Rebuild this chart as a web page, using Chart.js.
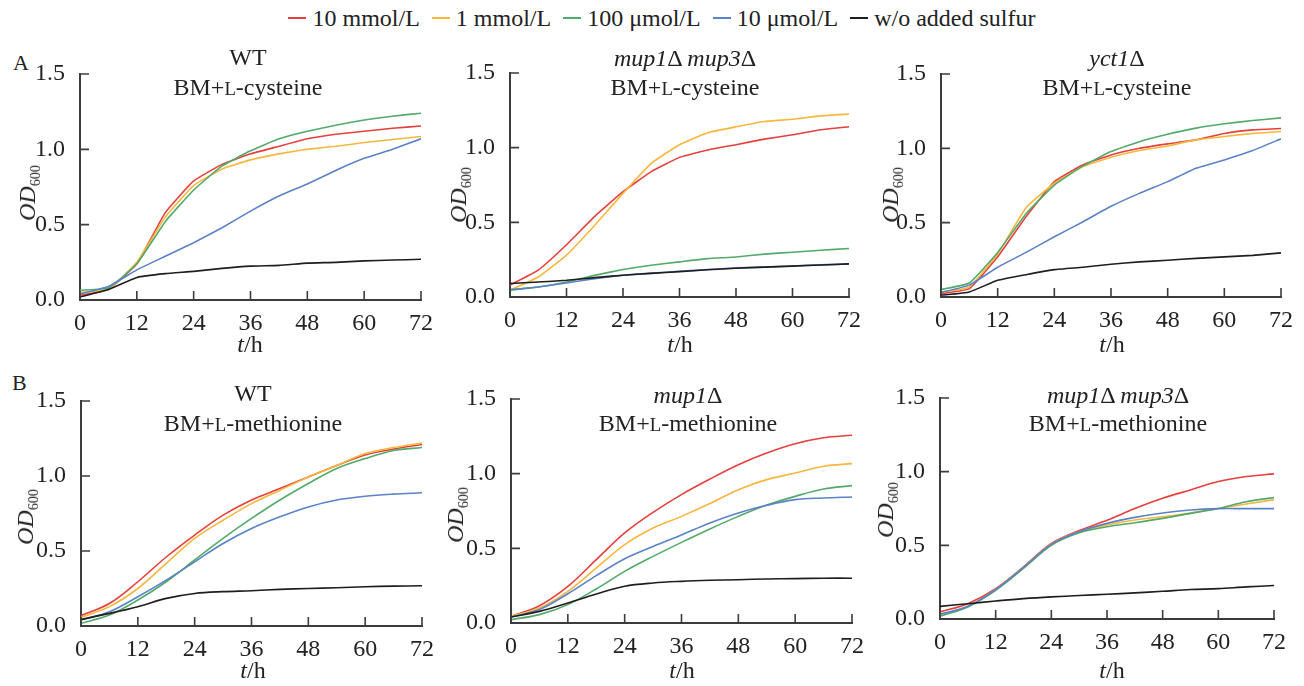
<!DOCTYPE html>
<html>
<head>
<meta charset="utf-8">
<title>OD600 growth curves</title>
<script src="https://cdn.jsdelivr.net/npm/chart.js@4.4.1/dist/chart.umd.min.js"></script>
<style>
    body { margin: 0; background: #fff; }
    #fig { position: relative; width: 1304px; height: 686px; overflow: hidden; background: #fff;
        font-family: "Liberation Serif", "Times New Roman", serif; color: #222; }
    #fig canvas { position: absolute; }
    .lbl { position: absolute; white-space: nowrap; font-size: 24px; line-height: 1; transform: translate(-50%, -50%); }
    .ylab { transform: translate(-50%, -50%) rotate(-90deg); }
    .ylab sub { font-size: 14px; vertical-align: -5px; line-height: 0; }
    .sc { font-size: 0.78em; }
    .panel-tag { position: absolute; font-size: 22px; line-height: 1; }
    #legend { position: absolute; top: 6px; left: 10px; width: 1304px; display: flex; justify-content: center; font-size: 24px; line-height: 1; }
    #legend .item { display: flex; align-items: center; margin: 0 6px; }
    #legend .swatch { width: 18px; height: 2px; margin-right: 6px; }
</style>
</head>
<body>
<div id="fig"></div>
<script>
// sampling times (h) and axis ticks
var times = [0, 6, 12, 18, 24, 30, 36, 42, 48, 54, 60, 66, 72];
var xTicks = [0, 12, 24, 36, 48, 60, 72];
var yTicks = [0, 0.5, 1.0, 1.5];

var seriesNames = ['10 mmol/L', '1 mmol/L', '100 \u03bcmol/L', '10 \u03bcmol/L', 'w/o added sulfur'];
var seriesColors = ['#e5403d', '#f5b73e', '#53a96a', '#5b82c6', '#1e1e1e'];

// OD600 per series, order = seriesNames
var cysWT = [
    [0.03, 0.07, 0.24, 0.58, 0.79, 0.90, 0.97, 1.02, 1.07, 1.10, 1.12, 1.14, 1.155],
    [0.05, 0.07, 0.25, 0.55, 0.76, 0.87, 0.93, 0.97, 1.00, 1.02, 1.045, 1.065, 1.085],
    [0.065, 0.08, 0.24, 0.52, 0.73, 0.89, 0.99, 1.07, 1.12, 1.16, 1.195, 1.22, 1.24],
    [0.04, 0.09, 0.20, 0.29, 0.38, 0.48, 0.59, 0.69, 0.77, 0.86, 0.94, 1.00, 1.07],
    [0.02, 0.07, 0.15, 0.175, 0.19, 0.21, 0.225, 0.23, 0.245, 0.25, 0.26, 0.265, 0.27]
];
var cysMup13 = [
    [0.08, 0.18, 0.35, 0.54, 0.705, 0.84, 0.935, 0.985, 1.02, 1.057, 1.086, 1.12, 1.14],
    [0.045, 0.134, 0.28, 0.48, 0.694, 0.895, 1.02, 1.10, 1.14, 1.175, 1.19, 1.213, 1.225],
    [0.05, 0.067, 0.10, 0.145, 0.184, 0.213, 0.235, 0.257, 0.268, 0.287, 0.30, 0.313, 0.325],
    [0.045, 0.067, 0.094, 0.123, 0.146, 0.16, 0.172, 0.184, 0.195, 0.20, 0.208, 0.215, 0.222],
    [0.09, 0.10, 0.112, 0.13, 0.146, 0.158, 0.17, 0.182, 0.193, 0.20, 0.207, 0.214, 0.222]
];
var cysYct1 = [
    [0.022, 0.056, 0.27, 0.54, 0.776, 0.888, 0.955, 1.0, 1.03, 1.057, 1.10, 1.124, 1.133],
    [0.034, 0.067, 0.29, 0.60, 0.765, 0.877, 0.94, 0.985, 1.016, 1.057, 1.08, 1.10, 1.113],
    [0.05, 0.094, 0.30, 0.56, 0.753, 0.88, 0.978, 1.045, 1.095, 1.136, 1.165, 1.187, 1.205],
    [0.03, 0.08, 0.20, 0.30, 0.405, 0.505, 0.61, 0.697, 0.776, 0.866, 0.922, 0.985, 1.064],
    [0.011, 0.034, 0.112, 0.15, 0.184, 0.20, 0.22, 0.236, 0.247, 0.26, 0.27, 0.28, 0.297]
];
var metWT = [
    [0.069, 0.15, 0.295, 0.46, 0.606, 0.739, 0.84, 0.916, 0.994, 1.07, 1.14, 1.18, 1.21],
    [0.058, 0.129, 0.25, 0.417, 0.584, 0.705, 0.816, 0.905, 0.994, 1.07, 1.15, 1.19, 1.22],
    [0.018, 0.073, 0.173, 0.295, 0.44, 0.584, 0.717, 0.84, 0.95, 1.05, 1.116, 1.17, 1.19],
    [0.04, 0.095, 0.195, 0.306, 0.428, 0.55, 0.65, 0.728, 0.794, 0.84, 0.865, 0.879, 0.888],
    [0.044, 0.084, 0.129, 0.184, 0.217, 0.229, 0.235, 0.244, 0.25, 0.255, 0.262, 0.266, 0.268]
];
var metMup1 = [
    [0.045, 0.116, 0.245, 0.424, 0.603, 0.741, 0.86, 0.964, 1.06, 1.138, 1.20, 1.24, 1.257],
    [0.045, 0.10, 0.212, 0.368, 0.525, 0.636, 0.714, 0.80, 0.893, 0.96, 1.004, 1.05, 1.067],
    [0.022, 0.056, 0.123, 0.228, 0.346, 0.446, 0.54, 0.63, 0.714, 0.79, 0.848, 0.897, 0.92],
    [0.04, 0.09, 0.196, 0.317, 0.43, 0.513, 0.59, 0.67, 0.737, 0.788, 0.826, 0.837, 0.844],
    [0.04, 0.078, 0.134, 0.194, 0.246, 0.268, 0.279, 0.286, 0.29, 0.295, 0.297, 0.30, 0.30]
];
var metMup13 = [
    [0.048, 0.104, 0.206, 0.354, 0.513, 0.60, 0.67, 0.75, 0.82, 0.876, 0.933, 0.967, 0.985],
    [0.025, 0.086, 0.20, 0.35, 0.508, 0.592, 0.638, 0.672, 0.694, 0.72, 0.75, 0.78, 0.81],
    [0.018, 0.082, 0.195, 0.343, 0.50, 0.585, 0.626, 0.653, 0.683, 0.717, 0.75, 0.796, 0.824],
    [0.032, 0.086, 0.20, 0.35, 0.506, 0.592, 0.649, 0.69, 0.72, 0.74, 0.749, 0.749, 0.749],
    [0.086, 0.104, 0.122, 0.138, 0.15, 0.159, 0.168, 0.177, 0.188, 0.20, 0.206, 0.218, 0.227]
];

(function () {
    var fig = document.getElementById('fig');
    var axisColor = '#3c3c3c';
    var fontFamily = '"Liberation Serif", "Times New Roman", serif';
    var Y_W = 70, X_H = 40, PAD_T = 20, PAD_R = 24;

    // plot area boxes: left, top, right, bottom (page px)
    var panels = [
        { data: cysWT, box: [80, 74, 421, 300], tension: 0.12,
          title: ['WT', 'BM+<span class="sc">L</span>-cysteine'], tpos: [248, 57, 87],
          ylab: [27, 193], xlab: [250, 344] },
        { data: cysMup13, box: [510, 73, 849, 297], tension: 0.12,
          title: ['<i>mup1</i>\u0394 <i>mup3</i>\u0394', 'BM+<span class="sc">L</span>-cysteine'], tpos: [685, 58, 87],
          ylab: [458, 195], xlab: [680, 344] },
        { data: cysYct1, box: [941, 74, 1281, 297], tension: 0.12,
          title: ['<i>yct1</i>\u0394', 'BM+<span class="sc">L</span>-cysteine'], tpos: [1117, 58, 87],
          ylab: [890, 195], xlab: [1112, 344] },
        { data: metWT, box: [81, 401, 422, 626], tension: 0.35,
          title: ['WT', 'BM+<span class="sc">L</span>-methionine'], tpos: [253, 393, 423],
          ylab: [25, 517], xlab: [253, 670] },
        { data: metMup1, box: [511, 399, 852, 623], tension: 0.35,
          title: ['<i>mup1</i>\u0394', 'BM+<span class="sc">L</span>-methionine'], tpos: [688, 395, 423],
          ylab: [455, 515], xlab: [682, 670] },
        { data: metMup13, box: [940, 398, 1274, 619], tension: 0.35,
          title: ['<i>mup1</i>\u0394 <i>mup3</i>\u0394', 'BM+<span class="sc">L</span>-methionine'], tpos: [1118, 395, 423],
          ylab: [885, 510], xlab: [1112, 670] }
    ];

    function addLabel(html, x, y, cls) {
        var el = document.createElement('div');
        el.className = 'lbl' + (cls ? ' ' + cls : '');
        el.innerHTML = html;
        el.style.left = x + 'px';
        el.style.top = y + 'px';
        fig.appendChild(el);
        return el;
    }

    var inwardTicks = {
        id: 'inwardTicks',
        afterDraw: function (chart) {
            var ctx = chart.ctx, a = chart.chartArea, xs = chart.scales.x, ys = chart.scales.y;
            ctx.save();
            ctx.strokeStyle = axisColor;
            ctx.lineWidth = 1.6;
            ctx.beginPath();
            xs.ticks.forEach(function (t) {
                var px = xs.getPixelForValue(t.value);
                ctx.moveTo(px, a.bottom);
                ctx.lineTo(px, a.bottom - 9);
            });
            ys.ticks.forEach(function (t) {
                var py = ys.getPixelForValue(t.value);
                ctx.moveTo(a.left, py);
                ctx.lineTo(a.left + 9, py);
            });
            ctx.stroke();
            ctx.restore();
        }
    };

    function fixSize(dim, size) {
        return function (scale) {
            scale[dim] = size;
            scale.paddingLeft = 0; scale.paddingRight = 0;
            scale.paddingTop = 0; scale.paddingBottom = 0;
        };
    }

    function makeChart(p) {
        var b = p.box;
        var cv = document.createElement('canvas');
        var w = (b[2] - b[0]) + Y_W + PAD_R;
        var h = (b[3] - b[1]) + PAD_T + X_H;
        cv.width = w; cv.height = h;
        cv.style.left = (b[0] - Y_W) + 'px';
        cv.style.top = (b[1] - PAD_T) + 'px';
        cv.style.width = w + 'px'; cv.style.height = h + 'px';
        fig.appendChild(cv);

        var datasets = p.data.map(function (vals, i) {
            return {
                label: seriesNames[i],
                data: vals.map(function (v, j) { return { x: times[j], y: v }; }),
                borderColor: seriesColors[i],
                borderWidth: 1.6,
                pointRadius: 0,
                fill: false,
                tension: p.tension
            };
        }).reverse();

        var tickFont = { family: fontFamily, size: 24 };
        new Chart(cv, {
            type: 'line',
            data: { datasets: datasets },
            options: {
                responsive: false,
                animation: false,
                devicePixelRatio: 1,
                layout: { padding: { left: 0, top: PAD_T, right: PAD_R, bottom: 0 } },
                plugins: { legend: { display: false }, tooltip: { enabled: false } },
                scales: {
                    x: {
                        type: 'linear', min: 0, max: 72,
                        afterBuildTicks: function (s) { s.ticks = xTicks.map(function (v) { return { value: v }; }); },
                        afterFit: fixSize('height', X_H),
                        grid: { display: false },
                        border: { display: true, color: axisColor, width: 2 },
                        ticks: { font: tickFont, color: '#222', padding: 1, maxRotation: 0, autoSkip: false }
                    },
                    y: {
                        min: 0, max: 1.5,
                        afterBuildTicks: function (s) { s.ticks = yTicks.map(function (v) { return { value: v }; }); },
                        afterFit: fixSize('width', Y_W),
                        grid: { display: false },
                        border: { display: true, color: axisColor, width: 2 },
                        ticks: {
                            font: tickFont, color: '#222', padding: 7,
                            callback: function (v) { return Number(v).toFixed(1); }
                        }
                    }
                }
            },
            plugins: [inwardTicks]
        });

        addLabel(p.title[0], p.tpos[0], p.tpos[1]);
        addLabel(p.title[1], p.tpos[0], p.tpos[2]);
        addLabel('<i>OD</i><sub>600</sub>', p.ylab[0], p.ylab[1], 'ylab');
        addLabel('<i>t</i>/h', p.xlab[0], p.xlab[1]);
    }

    function buildLegend() {
        var lg = document.createElement('div');
        lg.id = 'legend';
        seriesNames.forEach(function (name, i) {
            var it = document.createElement('div');
            it.className = 'item';
            var sw = document.createElement('span');
            sw.className = 'swatch';
            sw.style.background = seriesColors[i];
            var tx = document.createElement('span');
            tx.textContent = name;
            it.appendChild(sw);
            it.appendChild(tx);
            lg.appendChild(it);
        });
        fig.appendChild(lg);
    }

    function panelTag(txt, x, y) {
        var el = document.createElement('div');
        el.className = 'panel-tag';
        el.textContent = txt;
        el.style.left = x + 'px';
        el.style.top = y + 'px';
        fig.appendChild(el);
    }

    function boot() {
        buildLegend();
        panelTag('A', 13, 52);
        panelTag('B', 12, 372);
        panels.forEach(makeChart);
    }

    if (document.readyState === 'loading') {
        document.addEventListener('DOMContentLoaded', boot);
    } else {
        boot();
    }
})();
</script>
</body>
</html>
